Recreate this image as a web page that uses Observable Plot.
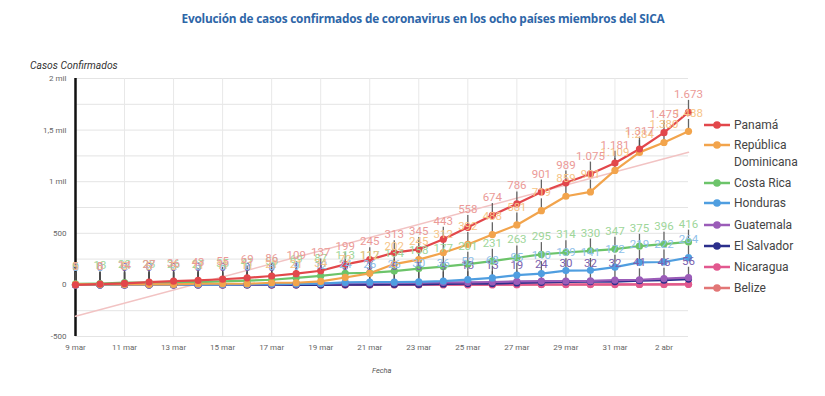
<!DOCTYPE html>
<html>
<head>
<meta charset="utf-8">
<script src="https://cdn.jsdelivr.net/npm/d3@7"></script>
<script src="https://cdn.jsdelivr.net/npm/@observablehq/plot@0.6"></script>
<style>
  body { margin: 0; background: #fff; }
  #wrap { position: relative; width: 825px; height: 396px; overflow: hidden; font-family: Roboto, sans-serif; }
  #title { position: absolute; left: 0; top: 10px; width: 846px; text-align: center; font-family: "Open Sans", sans-serif; font-weight: 700; font-size: 11.8px; color: #2e66a8; white-space: nowrap; letter-spacing: -0.2px; }
  #ylab { position: absolute; left: 30px; top: 59px; font-size: 10.3px; font-style: italic; color: #333; white-space: nowrap; }
  #xlab { position: absolute; left: 372px; top: 366px; font-size: 7.5px; font-style: italic; color: #555; }
  #chart { position: absolute; left: 0; top: 36px; }
  #legend { position: absolute; left: 704px; top: 0; width: 121px; height: 396px; }
  .li { position: absolute; left: 0; display: flex; align-items: flex-start; font-size: 12px; color: #444; line-height: 17px; white-space: nowrap; }
  .li svg { margin-top: 3px; margin-right: 4px; flex: none; }
</style>
</head>
<body>
<div id="wrap">
  <div id="title">Evolución de casos confirmados de coronavirus en los ocho países miembros del SICA</div>
  <div id="ylab">Casos Confirmados</div>
  <div id="xlab">Fecha</div>
  <div id="chart"></div>
  <div id="legend"></div>
</div>
<script>
const dates = ["2020-03-09","2020-03-10","2020-03-11","2020-03-12","2020-03-13","2020-03-14","2020-03-15","2020-03-16","2020-03-17","2020-03-18","2020-03-19","2020-03-20","2020-03-21","2020-03-22","2020-03-23","2020-03-24","2020-03-25","2020-03-26","2020-03-27","2020-03-28","2020-03-29","2020-03-30","2020-03-31","2020-04-01","2020-04-02","2020-04-03"];

const panama      = [1, 8, 14, 27, 36, 43, 55, 69, 86, 109, 137, 199, 245, 313, 345, 443, 558, 674, 786, 901, 989, 1075, 1181, 1317, 1475, 1673];
const republicaDominicana = [5, 5, 5, 5, 5, 11, 11, 11, 21, 21, 34, 72, 112, 202, 245, 312, 392, 488, 581, 719, 859, 901, 1109, 1284, 1380, 1488];
const costaRica   = [9, 13, 22, 23, 26, 27, 35, 41, 50, 69, 87, 113, 117, 134, 158, 177, 201, 231, 263, 295, 314, 330, 347, 375, 396, 416];
const honduras    = [0, 0, 2, 2, 2, 3, 3, 6, 8, 9, 12, 24, 26, 26, 30, 36, 52, 68, 95, 110, 139, 141, 172, 219, 222, 264];
const guatemala   = [0, 0, 0, 0, 1, 1, 2, 6, 6, 9, 12, 17, 19, 20, 21, 24, 25, 28, 34, 36, 38, 39, 47, 50, 61, 70];
const elSalvador  = [0, 0, 0, 0, 0, 0, 0, 0, 0, 1, 1, 3, 3, 5, 5, 9, 13, 13, 19, 24, 30, 32, 32, 41, 46, 56];
const nicaragua   = [0, 0, 0, 0, 0, 0, 0, 0, 0, 1, 1, 1, 2, 2, 2, 2, 2, 2, 2, 4, 4, 5, 5, 5, 5, 6];
const belize      = [0, 0, 0, 0, 0, 0, 0, 0, 0, 0, 0, 0, 0, 1, 2, 2, 2, 2, 3, 3, 3, 3, 3, 4, 5, 7];

const seriesNames = ["Panamá", "República Dominicana", "Costa Rica", "Honduras", "Guatemala", "El Salvador", "Nicaragua", "Belize"];
const seriesValues = [panama, republicaDominicana, costaRica, honduras, guatemala, elSalvador, nicaragua, belize];
const seriesColors = ["#e2474b", "#f2a44c", "#6cc46a", "#4f9ee0", "#9b5cb8", "#2b2f8c", "#e2588f", "#e27676"];
const labelColors  = ["#eb9a97", "#f6c487", "#9ed69a", "#8fc1ea", null, "#7a5fae", null, null];

const xTickDates  = ["2020-03-09","2020-03-11","2020-03-13","2020-03-15","2020-03-17","2020-03-19","2020-03-21","2020-03-23","2020-03-25","2020-03-27","2020-03-29","2020-03-31","2020-04-02"];
const xTickLabels = ["9 mar","11 mar","13 mar","15 mar","17 mar","19 mar","21 mar","23 mar","25 mar","27 mar","29 mar","31 mar","2 abr"];
const yTicks      = [-500, 0, 500, 1000, 1500, 2000];
const yTickLabels = ["-500", "0", "500", "1 mil", "1,5 mil", "2 mil"];
const yGrid       = [-500, -250, 0, 250, 500, 750, 1000, 1250, 1500, 1750, 2000];

const parse = d3.utcParse("%Y-%m-%d");
const locale = d3.formatLocale({decimal: ",", thousands: ".", grouping: [3], currency: ["", ""]});
const fmt = locale.format(",d");

const rows = [];
for (let s = seriesNames.length - 1; s >= 0; s--) {
  seriesValues[s].forEach((v, i) => rows.push({serie: seriesNames[s], date: parse(dates[i]), v, s}));
}
const panamaRows = rows.filter(d => d.serie === "Panamá");

const labelMarks = [];
const stemMarks = [];
for (let s = seriesNames.length - 1; s >= 0; s--) {
  if (!labelColors[s]) continue;
  const r = rows.filter(d => d.s === s);
  stemMarks.push(Plot.ruleX(r, {x: "date", y1: "v", y2: d => d.v + 115, stroke: "#4a4a4a", strokeWidth: 1.3, strokeOpacity: 0.85}));
  labelMarks.push(Plot.text(r, {x: "date", y: "v", dy: -18, text: d => fmt(d.v), fill: labelColors[s], fontSize: 11.5, fontFamily: "Roboto"}));
}

const chart = Plot.plot({
  width: 825,
  height: 360,
  marginTop: 42,
  marginBottom: 60,
  marginLeft: 75,
  marginRight: 137,
  style: {fontFamily: "Roboto", fontSize: "8px", color: "#666", background: "transparent"},
  x: {type: "utc", domain: [parse(dates[0]), parse(dates[dates.length - 1])]},
  y: {domain: [-500, 2000]},
  color: {domain: seriesNames, range: seriesColors},
  marks: [
    Plot.gridY(yGrid, {stroke: "#e4e4e4", strokeOpacity: 1}),
    Plot.gridX(xTickDates.map(parse), {stroke: "#e8e8e8", strokeOpacity: 1}),
    Plot.axisX(xTickDates.map(parse), {tickSize: 0, tickPadding: 8, tickFormat: (d, i) => xTickLabels[i], fill: "#666", label: null}),
    Plot.axisY(yTicks, {tickSize: 0, tickPadding: 9, tickFormat: (d, i) => yTickLabels[i], fill: "#666", label: null}),
    Plot.ruleX([parse(dates[0])], {y1: -500, y2: 2000, stroke: "#111", strokeWidth: 2.5}),
    Plot.linearRegressionY(panamaRows, {x: "date", y: "v", stroke: "#f2c3c3", strokeWidth: 1.5, ci: 0}),
    ...stemMarks,
    Plot.line(rows, {x: "date", y: "v", z: "serie", stroke: "serie", strokeWidth: 2.2}),
    Plot.dot(rows, {x: "date", y: "v", fill: "serie", r: 3.6}),
    ...labelMarks
  ]
});
document.getElementById("chart").appendChild(chart);

// legend
const legendTops = [117, 137, 175, 195, 217, 238, 259, 280];
const legend = document.getElementById("legend");
seriesNames.forEach((name, i) => {
  const div = document.createElement("div");
  div.className = "li";
  div.style.top = legendTops[i] + "px";
  const c = seriesColors[i];
  div.innerHTML = `<svg width="26" height="10"><line x1="0" y1="5" x2="26" y2="5" stroke="${c}" stroke-width="2.5"/><circle cx="13" cy="5" r="3.8" fill="${c}"/></svg><span>${name === "República Dominicana" ? "República<br>Dominicana" : name}</span>`;
  legend.appendChild(div);
});
</script>
</body>
</html>
